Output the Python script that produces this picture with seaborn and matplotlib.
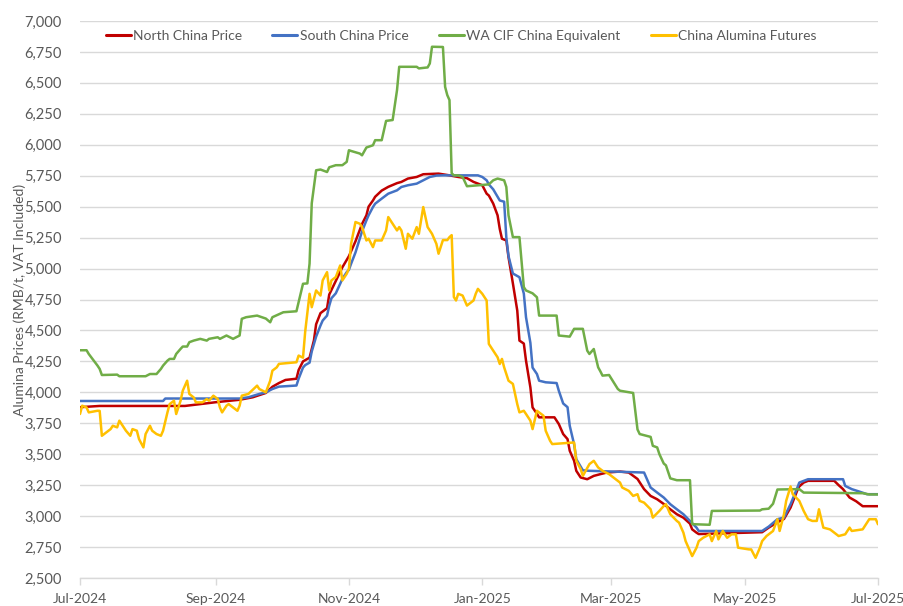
import matplotlib
matplotlib.use("Agg")
import matplotlib.pyplot as plt
import matplotlib.dates as mdates
import matplotlib.ticker as mticker
import pandas as pd
import seaborn as sns

series_names = ["North China Price", "South China Price", "WA CIF China Equivalent", "China Alumina Futures"]
series_colors = ["#C00000", "#4472C4", "#70AD47", "#FFC000"]

north_dates = ["2024-07-01", "2024-07-10", "2024-08-18", "2024-08-25", "2024-09-01", "2024-09-12", "2024-09-18",
               "2024-09-24", "2024-09-27", "2024-09-30", "2024-10-03", "2024-10-08", "2024-10-09", "2024-10-11",
               "2024-10-14", "2024-10-16", "2024-10-17", "2024-10-19", "2024-10-22", "2024-10-23", "2024-10-26",
               "2024-10-29", "2024-11-01", "2024-11-04", "2024-11-07", "2024-11-09", "2024-11-10", "2024-11-12",
               "2024-11-13", "2024-11-16", "2024-11-19", "2024-11-23", "2024-11-25", "2024-11-28", "2024-12-02",
               "2024-12-05", "2024-12-12", "2024-12-17", "2024-12-21", "2024-12-25", "2024-12-28", "2025-01-01",
               "2025-01-03", "2025-01-04", "2025-01-06", "2025-01-08", "2025-01-09", "2025-01-10", "2025-01-12",
               "2025-01-13", "2025-01-15", "2025-01-17", "2025-01-18", "2025-01-20", "2025-01-21", "2025-01-23",
               "2025-01-24", "2025-01-26", "2025-01-27", "2025-02-03", "2025-02-05", "2025-02-07", "2025-02-09",
               "2025-02-10", "2025-02-12", "2025-02-13", "2025-02-15", "2025-02-18", "2025-02-21", "2025-02-24",
               "2025-02-27", "2025-03-05", "2025-03-09", "2025-03-13", "2025-03-16", "2025-03-19", "2025-03-22",
               "2025-03-25", "2025-03-28", "2025-03-31", "2025-04-03", "2025-04-06", "2025-04-07", "2025-04-09",
               "2025-04-10", "2025-05-09", "2025-05-12", "2025-05-16", "2025-05-19", "2025-05-22", "2025-05-25",
               "2025-05-26", "2025-05-28", "2025-05-30", "2025-06-11", "2025-06-13", "2025-06-15", "2025-06-18",
               "2025-06-21", "2025-06-24", "2025-07-01"]
north_vals = [3880, 3890, 3890, 3905, 3920, 3940, 3960,
              3995, 4045, 4075, 4100, 4110, 4180, 4250,
              4280, 4420, 4550, 4640, 4680, 4790, 4900,
              5010, 5100, 5220, 5360, 5430, 5500, 5550,
              5580, 5630, 5660, 5690, 5700, 5727, 5740,
              5762, 5767, 5753, 5740, 5730, 5700, 5673,
              5605, 5590, 5525, 5430, 5320, 5241, 5227,
              5092, 4880, 4661, 4418, 4394, 4256, 4040,
              3878, 3827, 3798, 3798, 3744, 3663, 3622,
              3528, 3447, 3366, 3312, 3298, 3325, 3339,
              3352, 3360, 3352, 3300, 3218, 3163, 3136,
              3098, 3055, 3015, 2987, 2939, 2893, 2866,
              2855, 2870, 2907, 2950, 2977, 3069, 3204,
              3240, 3271, 3285, 3285, 3250, 3218, 3150,
              3120, 3080, 3080]

south_dates = ["2024-07-01", "2024-08-08", "2024-08-09", "2024-09-12", "2024-09-16", "2024-09-21", "2024-09-24",
               "2024-09-27", "2024-09-30", "2024-10-08", "2024-10-09", "2024-10-11", "2024-10-12", "2024-10-14",
               "2024-10-15", "2024-10-17", "2024-10-19", "2024-10-20", "2024-10-22", "2024-10-23", "2024-10-24",
               "2024-10-26", "2024-10-28", "2024-10-29", "2024-10-31", "2024-11-01", "2024-11-02", "2024-11-04",
               "2024-11-07", "2024-11-09", "2024-11-10", "2024-11-12", "2024-11-13", "2024-11-16", "2024-11-19",
               "2024-11-23", "2024-11-25", "2024-11-28", "2024-12-02", "2024-12-05", "2024-12-08", "2024-12-11",
               "2024-12-14", "2024-12-30", "2025-01-01", "2025-01-03", "2025-01-04", "2025-01-06", "2025-01-08",
               "2025-01-09", "2025-01-11", "2025-01-12", "2025-01-13", "2025-01-15", "2025-01-17", "2025-01-18",
               "2025-01-20", "2025-01-21", "2025-01-23", "2025-01-24", "2025-01-26", "2025-01-27", "2025-01-30",
               "2025-02-04", "2025-02-05", "2025-02-07", "2025-02-09", "2025-02-10", "2025-02-12", "2025-02-13",
               "2025-02-15", "2025-02-16", "2025-02-19", "2025-03-16", "2025-03-19", "2025-03-22", "2025-03-25",
               "2025-03-28", "2025-03-31", "2025-04-03", "2025-04-06", "2025-04-09", "2025-04-10", "2025-05-09",
               "2025-05-12", "2025-05-16", "2025-05-19", "2025-05-22", "2025-05-25", "2025-05-26", "2025-05-30",
               "2025-06-15", "2025-06-16", "2025-06-19", "2025-06-23", "2025-06-26", "2025-07-01"]
south_vals = [3930, 3930, 3950, 3950, 3960, 3987, 4000,
              4027, 4046, 4055, 4110, 4200, 4220, 4240,
              4330, 4450, 4540, 4580, 4620, 4700, 4760,
              4800, 4877, 4917, 4971, 4990, 5039, 5130,
              5300, 5389, 5430, 5497, 5524, 5565, 5605,
              5632, 5659, 5673, 5686, 5713, 5740, 5751,
              5753, 5753, 5740, 5713, 5680, 5640, 5580,
              5550, 5540, 5250, 5100, 4960, 4940, 4930,
              4798, 4607, 4400, 4200, 4148, 4094, 4081,
              4075, 4013, 3910, 3880, 3730, 3580, 3460,
              3400, 3370, 3366, 3352, 3231, 3190, 3150,
              3096, 3055, 3015, 2961, 2907, 2880, 2880,
              2915, 2975, 2988, 3096, 3225, 3271, 3298,
              3298, 3244, 3218, 3195, 3177, 3177]

wa_dates = ["2024-07-01", "2024-07-04", "2024-07-05", "2024-07-09", "2024-07-10", "2024-07-11", "2024-07-18",
            "2024-07-19", "2024-07-31", "2024-08-02", "2024-08-05", "2024-08-07", "2024-08-08", "2024-08-10",
            "2024-08-11", "2024-08-13", "2024-08-14", "2024-08-16", "2024-08-17", "2024-08-19", "2024-08-20",
            "2024-08-22", "2024-08-25", "2024-08-28", "2024-08-29", "2024-09-02", "2024-09-03", "2024-09-06",
            "2024-09-09", "2024-09-12", "2024-09-13", "2024-09-15", "2024-09-20", "2024-09-24", "2024-09-26",
            "2024-09-27", "2024-10-02", "2024-10-08", "2024-10-09", "2024-10-11", "2024-10-13", "2024-10-14",
            "2024-10-15", "2024-10-17", "2024-10-19", "2024-10-22", "2024-10-23", "2024-10-26", "2024-10-29",
            "2024-10-31", "2024-11-01", "2024-11-02", "2024-11-06", "2024-11-07", "2024-11-09", "2024-11-12",
            "2024-11-13", "2024-11-16", "2024-11-18", "2024-11-21", "2024-11-23", "2024-11-24", "2024-12-02",
            "2024-12-03", "2024-12-07", "2024-12-08", "2024-12-09", "2024-12-14", "2024-12-15", "2024-12-16",
            "2024-12-17", "2024-12-18", "2024-12-19", "2024-12-21", "2024-12-23", "2024-12-25", "2025-01-04",
            "2025-01-06", "2025-01-08", "2025-01-11", "2025-01-12", "2025-01-13", "2025-01-15", "2025-01-18",
            "2025-01-20", "2025-01-21", "2025-01-24", "2025-01-26", "2025-01-27", "2025-02-04", "2025-02-05",
            "2025-02-10", "2025-02-12", "2025-02-16", "2025-02-18", "2025-02-19", "2025-02-21", "2025-02-23",
            "2025-02-24", "2025-02-25", "2025-02-28", "2025-03-04", "2025-03-05", "2025-03-11", "2025-03-13",
            "2025-03-14", "2025-03-19", "2025-03-20", "2025-03-22", "2025-03-23", "2025-03-25", "2025-03-26",
            "2025-03-28", "2025-03-31", "2025-04-06", "2025-04-07", "2025-04-15", "2025-04-16", "2025-05-08",
            "2025-05-09", "2025-05-12", "2025-05-14", "2025-05-16", "2025-05-26", "2025-05-28", "2025-06-24",
            "2025-06-27", "2025-07-01"]
wa_vals = [4340, 4340, 4310, 4216, 4189, 4140, 4143,
           4130, 4130, 4148, 4148, 4189, 4216, 4256,
           4270, 4270, 4310, 4351, 4370, 4370, 4405,
           4418, 4432, 4418, 4432, 4445, 4432, 4459,
           4432, 4459, 4594, 4607, 4620, 4596, 4566,
           4607, 4647, 4655, 4730, 4877, 4880, 5040,
           5527, 5794, 5800, 5780, 5818, 5835, 5835,
           5862, 5956, 5950, 5929, 5915, 5978, 5996,
           6037, 6037, 6193, 6200, 6441, 6630, 6630,
           6617, 6625, 6657, 6792, 6790, 6468, 6401,
           6361, 5770, 5753, 5753, 5740, 5665, 5680,
           5713, 5727, 5713, 5659, 5430, 5254, 5254,
           4850, 4823, 4800, 4768, 4620, 4620, 4459,
           4450, 4513, 4513, 4337, 4310, 4350, 4202,
           4170, 4135, 4140, 4027, 4013, 3995, 3700,
           3663, 3640, 3568, 3555, 3501, 3425, 3410,
           3305, 3290, 3290, 2935, 2930, 3042, 3045,
           3055, 3060, 3100, 3215, 3218, 3190, 3185,
           3175, 3175]

fut_dates = ["2024-07-01", "2024-07-02", "2024-07-04", "2024-07-05", "2024-07-09", "2024-07-10", "2024-07-11",
             "2024-07-13", "2024-07-15", "2024-07-16", "2024-07-18", "2024-07-19", "2024-07-21", "2024-07-22",
             "2024-07-24", "2024-07-25", "2024-07-27", "2024-07-28", "2024-07-30", "2024-07-31", "2024-08-02",
             "2024-08-03", "2024-08-05", "2024-08-07", "2024-08-08", "2024-08-10", "2024-08-11", "2024-08-13",
             "2024-08-14", "2024-08-16", "2024-08-17", "2024-08-19", "2024-08-20", "2024-08-22", "2024-08-23",
             "2024-08-26", "2024-08-28", "2024-08-29", "2024-08-31", "2024-09-02", "2024-09-03", "2024-09-04",
             "2024-09-06", "2024-09-07", "2024-09-09", "2024-09-11", "2024-09-12", "2024-09-13", "2024-09-16",
             "2024-09-20", "2024-09-21", "2024-09-24", "2024-09-26", "2024-09-27", "2024-09-29", "2024-09-30",
             "2024-10-08", "2024-10-09", "2024-10-11", "2024-10-12", "2024-10-14", "2024-10-15", "2024-10-17",
             "2024-10-19", "2024-10-20", "2024-10-22", "2024-10-23", "2024-10-24", "2024-10-26", "2024-10-28",
             "2024-10-29", "2024-10-31", "2024-11-01", "2024-11-02", "2024-11-04", "2024-11-06", "2024-11-07",
             "2024-11-09", "2024-11-10", "2024-11-12", "2024-11-13", "2024-11-16", "2024-11-18", "2024-11-19",
             "2024-11-21", "2024-11-23", "2024-11-24", "2024-11-25", "2024-11-27", "2024-11-28", "2024-11-30",
             "2024-12-02", "2024-12-03", "2024-12-05", "2024-12-07", "2024-12-08", "2024-12-09", "2024-12-11",
             "2024-12-12", "2024-12-14", "2024-12-16", "2024-12-17", "2024-12-18", "2024-12-19", "2024-12-20",
             "2024-12-21", "2024-12-23", "2024-12-25", "2024-12-26", "2024-12-28", "2024-12-29", "2024-12-30",
             "2025-01-01", "2025-01-03", "2025-01-04", "2025-01-06", "2025-01-08", "2025-01-09", "2025-01-10",
             "2025-01-11", "2025-01-13", "2025-01-15", "2025-01-17", "2025-01-18", "2025-01-20", "2025-01-21",
             "2025-01-23", "2025-01-24", "2025-01-26", "2025-01-27", "2025-01-29", "2025-01-30", "2025-02-01",
             "2025-02-02", "2025-02-12", "2025-02-13", "2025-02-15", "2025-02-16", "2025-02-19", "2025-02-21",
             "2025-02-23", "2025-02-25", "2025-02-28", "2025-03-04", "2025-03-05", "2025-03-06", "2025-03-09",
             "2025-03-11", "2025-03-13", "2025-03-14", "2025-03-16", "2025-03-19", "2025-03-20", "2025-03-23",
             "2025-03-25", "2025-03-26", "2025-03-28", "2025-03-31", "2025-04-01", "2025-04-03", "2025-04-04",
             "2025-04-07", "2025-04-09", "2025-04-10", "2025-04-12", "2025-04-15", "2025-04-16", "2025-04-18",
             "2025-04-19", "2025-04-21", "2025-04-23", "2025-04-25", "2025-04-27", "2025-04-28", "2025-05-03",
             "2025-05-04", "2025-05-06", "2025-05-08", "2025-05-09", "2025-05-11", "2025-05-12", "2025-05-14",
             "2025-05-16", "2025-05-17", "2025-05-19", "2025-05-20", "2025-05-22", "2025-05-23", "2025-05-26",
             "2025-05-28", "2025-05-30", "2025-06-01", "2025-06-03", "2025-06-04", "2025-06-06", "2025-06-09",
             "2025-06-10", "2025-06-13", "2025-06-16", "2025-06-18", "2025-06-19", "2025-06-24", "2025-06-27",
             "2025-06-30", "2025-07-01"]
fut_vals = [3825, 3892, 3878, 3838, 3851, 3850, 3649,
            3676, 3703, 3730, 3717, 3771, 3717, 3690,
            3649, 3703, 3690, 3622, 3555, 3663, 3730,
            3690, 3663, 3649, 3690, 3838, 3905, 3932,
            3825, 3932, 4013, 4094, 3987, 3959, 3919,
            3919, 3946, 3932, 3973, 3946, 3878, 3838,
            3892, 3905, 3878, 3851, 3892, 3973, 3987,
            4054, 4027, 4000, 4094, 4175, 4202, 4230,
            4243, 4297, 4280, 4490, 4796, 4688, 4823,
            4782, 4904, 4971, 4823, 4904, 4931, 5025,
            4904, 4958, 5000, 5200, 5376, 5362, 5335,
            5227, 5241, 5173, 5227, 5227, 5308, 5416,
            5362, 5308, 5335, 5308, 5160, 5281, 5241,
            5335, 5281, 5497, 5335, 5308, 5281, 5200,
            5120, 5230, 5230, 5254, 5270, 4770, 4742,
            4796, 4782, 4701, 4715, 4742, 4796, 4836,
            4796, 4742, 4391, 4337, 4283, 4229, 4270,
            4202, 4094, 4068, 3905, 3838, 3851, 3825,
            3771, 3703, 3851, 3838, 3811, 3690, 3609,
            3582, 3595, 3447, 3380, 3325, 3420, 3447,
            3393, 3366, 3339, 3285, 3271, 3231, 3204,
            3163, 3177, 3123, 3109, 3055, 2988, 3042,
            3082, 3096, 3015, 2961, 2947, 2866, 2798,
            2677, 2745, 2798, 2825, 2853, 2798, 2880,
            2812, 2880, 2825, 2853, 2853, 2745, 2731,
            2731, 2663, 2745, 2798, 2839, 2853, 2880,
            2975, 2880, 3015, 3123, 3240, 3177, 3123,
            3042, 2975, 2961, 2961, 3055, 2907, 2893,
            2880, 2839, 2853, 2907, 2880, 2893, 2975,
            2975, 2934]

y_ticks = list(range(2500, 7001, 250))
x_ticks = ["2024-07-01", "2024-09-01", "2024-11-01", "2025-01-01", "2025-03-01", "2025-05-01", "2025-07-01"]

frames = []
for name, d, v in zip(series_names,
                      [north_dates, south_dates, wa_dates, fut_dates],
                      [north_vals, south_vals, wa_vals, fut_vals]):
    frames.append(pd.DataFrame({"date": pd.to_datetime(d), "price": v, "series": name}))
df = pd.concat(frames, ignore_index=True)

sns.set_theme(style="white")
plt.rcParams['font.family'] = ['Lato', 'DejaVu Sans']
text_color = "#595959"
grid_color = "#D9D9D9"

W, H = 904, 606
fig = plt.figure(figsize=(W / 100, H / 100), dpi=100)
left, right, top, bottom = 80, 878, 21, 578
ax = fig.add_axes([left / W, 1 - bottom / H, (right - left) / W, (bottom - top) / H])

sns.lineplot(data=df, x="date", y="price", hue="series", hue_order=series_names,
             palette=series_colors, estimator=None, sort=False, linewidth=1.8, ax=ax, legend=False)

ax.set_xlim(pd.Timestamp("2024-07-01"), pd.Timestamp("2025-07-01"))
ax.set_ylim(2500, 7000)
ax.set_yticks(y_ticks)
ax.yaxis.set_major_formatter(mticker.FuncFormatter(lambda v, p: f"{int(v):,}"))
ax.set_xticks(pd.to_datetime(x_ticks))
ax.xaxis.set_major_formatter(mdates.DateFormatter("%b-%Y"))

ax.grid(axis="y", color=grid_color, linewidth=1.0)
ax.grid(axis="x", visible=False)
ax.set_axisbelow(True)
for s in ["top", "right", "left"]:
    ax.spines[s].set_visible(False)
ax.spines["bottom"].set_color(grid_color)
ax.spines["bottom"].set_linewidth(1.0)

ax.tick_params(axis="y", length=0, pad=13, labelsize=10.5, labelcolor=text_color)
ax.tick_params(axis="x", length=5, width=1.0, color=grid_color, direction="out", pad=6,
               labelsize=10, labelcolor=text_color, bottom=True)

ax.set_xlabel("")
ax.set_ylabel("Alumina Prices (RMB/t, VAT Included)", fontsize=10, color=text_color)
ax.yaxis.set_label_coords((26 - left) / (right - left), 0.5)

handles = [plt.Line2D([], [], color=c, linewidth=2.2) for c in series_colors]
fig.legend(handles, series_names, loc="center", bbox_to_anchor=(461 / W, 1 - 36 / H), ncol=4,
           frameon=False, fontsize=10, handlelength=1.8, handletextpad=0.15, columnspacing=2.2,
           labelcolor=text_color)

fig.savefig("out.png", dpi=100)
